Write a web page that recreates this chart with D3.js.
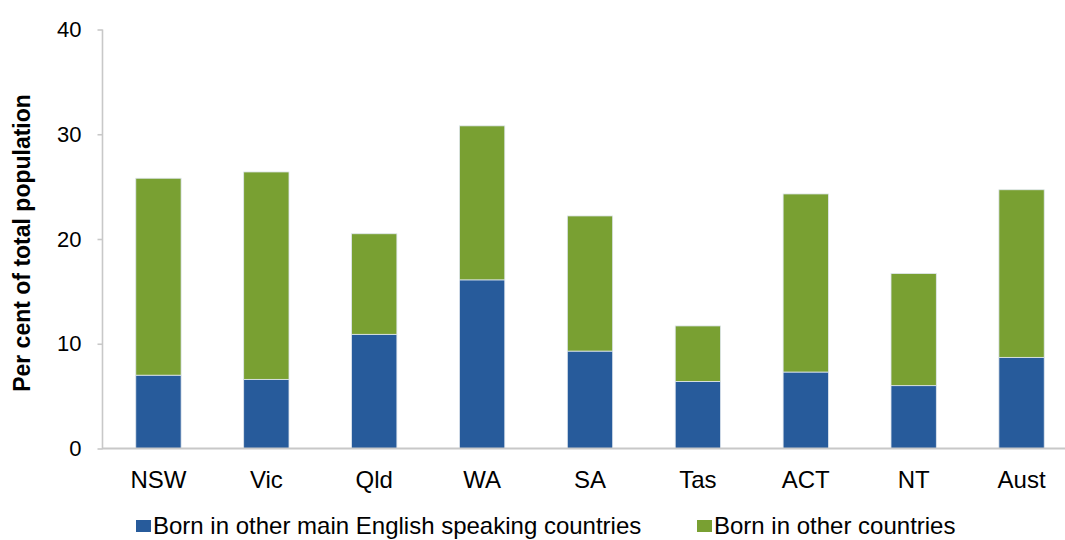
<!DOCTYPE html>
<html><head><meta charset="utf-8">
<script src="https://cdn.jsdelivr.net/npm/d3@7"></script>
<style>body{margin:0;background:#fff}svg{display:block}text{font-family:"Liberation Sans",Arial,sans-serif}</style>
</head><body>
<svg id="c" width="1065" height="540"></svg>
<script>
const categories = ["NSW","Vic","Qld","WA","SA","Tas","ACT","NT","Aust"];
const englishSpeaking = [7.0, 6.6, 10.9, 16.1, 9.3, 6.4, 7.3, 6.0, 8.7];
const otherCountries = [18.8, 19.8, 9.6, 14.7, 12.9, 5.3, 17.0, 10.7, 16.0];
const seriesNames = ["Born in other main English speaking countries","Born in other countries"];
const yTicks = [0,10,20,30,40];
const colors = ["#275B9B","#79A032"];

const svg = d3.select("#c");
const x = d3.scaleBand().domain(categories).range([104.5,1075.5]).paddingInner(0.58).paddingOuter(0.29);
const y = d3.scaleLinear().domain([0,40]).range([448.5,29.5]);

const rows = categories.map((c,i)=>({cat:c, a:englishSpeaking[i], b:otherCountries[i]}));
const stack = d3.stack().keys(["a","b"])(rows);

stack.forEach((s,si)=>{
  svg.append("g").selectAll("rect").data(s).join("rect")
    .attr("x",d=>x(d.data.cat)).attr("width",x.bandwidth())
    .attr("y",d=>y(d[1])).attr("height",d=>y(d[0])-y(d[1]))
    .attr("fill",colors[si]).attr("stroke","#dfe6ee").attr("stroke-width",0.8);
});

// y axis
const ya = svg.append("g").attr("transform","translate(102.5,0)")
  .call(d3.axisLeft(y).tickValues(yTicks).tickSize(5).tickPadding(16));
ya.select(".domain").attr("stroke","#c8c8c8").attr("stroke-width",1.6).attr("d","M0,29.5V449");
ya.selectAll(".tick line").attr("stroke","#c8c8c8").attr("stroke-width",1.6);
ya.selectAll(".tick text").attr("font-size",22).attr("fill","#000").attr("font-family","Liberation Sans, Arial, sans-serif");

// x axis
const xa = svg.append("g").attr("transform","translate(0,448.5)")
  .call(d3.axisBottom(x).tickSize(0).tickPadding(22));
xa.select(".domain").attr("stroke","#c8c8c8").attr("stroke-width",1.8).attr("d","M102,0H1065");
xa.selectAll(".tick text").attr("font-size",24).attr("fill","#000").attr("font-family","Liberation Sans, Arial, sans-serif");

// y title
svg.append("text").attr("transform","translate(30,243) rotate(-90)")
  .attr("text-anchor","middle").attr("font-size",23).attr("font-weight","bold")
  .text("Per cent of total population");

// legend
const legX = [136,697];
seriesNames.forEach((n,i)=>{
  svg.append("rect").attr("x",legX[i]).attr("y",520).attr("width",15).attr("height",12).attr("fill",colors[i]);
  svg.append("text").attr("x",legX[i]+17).attr("y",534).attr("font-size",24).text(n);
});
</script>
</body></html>
